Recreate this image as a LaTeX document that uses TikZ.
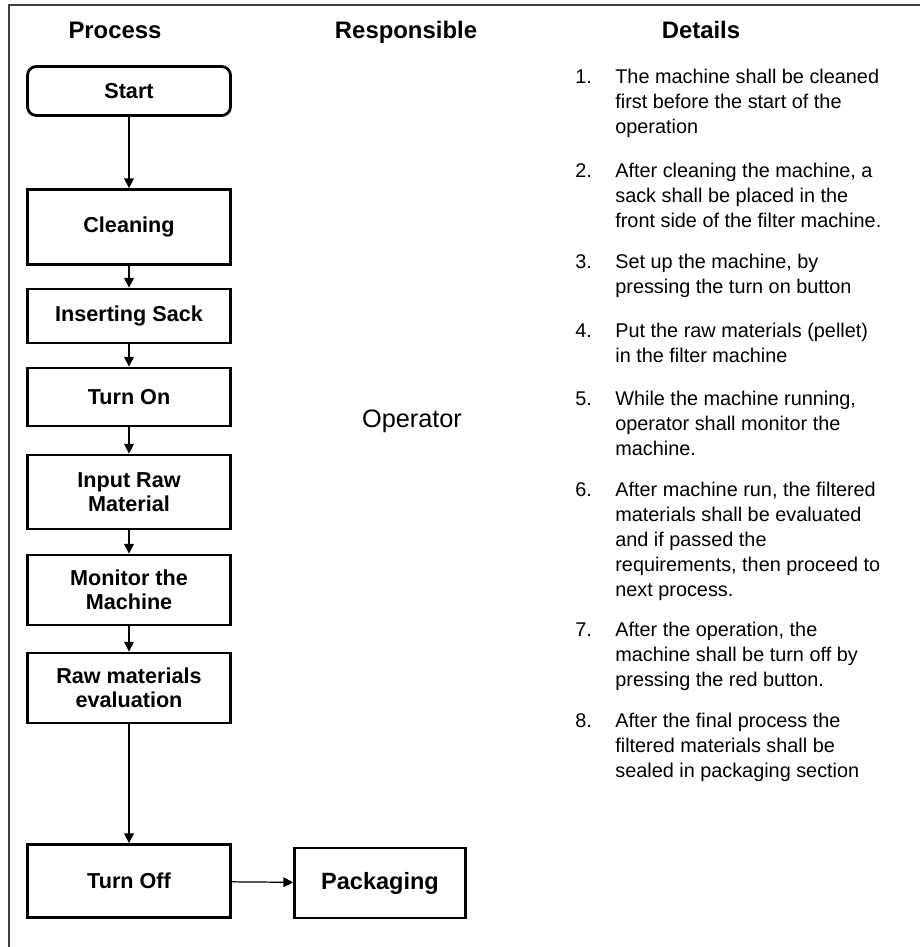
\documentclass[tikz,border=0pt]{standalone}
\usepackage{fontspec}
\setmainfont{Liberation Sans}
\usetikzlibrary{positioning,arrows.meta}
\definecolor{framegray}{HTML}{404040}

\begin{document}
\begin{tikzpicture}[
  x=0.02cm, y=-0.02cm,
  stepbox/.style={rectangle, draw=black, line width=1.6pt, fill=white,
    minimum width=4.06cm, align=center, inner sep=2pt,
    font=\bfseries\fontsize{12.3}{13.7}\selectfont},
  startbox/.style={stepbox, rounded corners=5pt},
  endbox/.style={stepbox, minimum width=3.42cm,
    font=\bfseries\fontsize{13.4}{15}\selectfont},
  head/.style={anchor=base, font=\bfseries\fontsize{13.6}{16}\selectfont},
  role/.style={anchor=base, font=\fontsize{14.4}{17}\selectfont},
  flow/.style={line width=0.7pt, -{Triangle[length=5.5pt,width=5.5pt]}},
  item/.style={anchor=north west, inner sep=0pt, align=left,
    font=\fontsize{11.3}{14.2}\selectfont},
  num/.style={item},
]
\useasboundingbox (0,0) rectangle (920,947);

% frame
\draw[framegray, line width=0.75pt] (920,5) -- (9,5) -- (9,947);

% column heads
\node[head] (hproc) at (115,38)  {Process};
\node[head] (hresp) at (406,38)  {Responsible};
\node[head] (hdet)  at (701,38)  {Details};

% process steps
\node[startbox, minimum height=0.98cm] (start) at (129,91)  {Start};
\node[stepbox, minimum height=1.5cm]   (clean) at (129,227) {Cleaning};
\node[stepbox, minimum height=1.08cm]  (sack)  at (129,316) {Inserting Sack};
\node[stepbox, minimum height=1.16cm]  (on)    at (129,397) {Turn On};
\node[stepbox, minimum height=1.48cm]  (input) at (129,492) {Input Raw\\Material};
\node[stepbox, minimum height=1.4cm]   (mon)   at (129,590) {Monitor the\\Machine};
\node[stepbox, minimum height=1.4cm]   (eval)  at (129,688) {Raw materials\\evaluation};
\node[stepbox, minimum height=1.46cm]  (off)   at (129,881) {Turn Off};
\node[endbox, minimum height=1.4cm]    (pack)  at (380,883) {Packaging};

\draw[flow] (start) -- (clean);
\draw[flow] (clean) -- (sack);
\draw[flow] (sack) -- (on);
\draw[flow] (on) -- (input);
\draw[flow] (input) -- (mon);
\draw[flow] (mon) -- (eval);
\draw[flow] (eval) -- (off);
\draw[flow] (off) -- (pack);

% responsible
\node[role] (oper) at (412,427) {Operator};

% details
\node[num] (n1) at (575,69)  {1.};
\node[item] (d1) at (615,69)  {The machine shall be cleaned\\first before the start of the\\operation};
\node[num] (n2) at (575,163) {2.};
\node[item] (d2) at (615,163) {After cleaning the machine, a\\sack shall be placed in the\\front side of the filter machine.};
\node[num] (n3) at (575,254) {3.};
\node[item] (d3) at (615,254) {Set up the machine, by\\pressing the turn on button};
\node[num] (n4) at (575,323) {4.};
\node[item] (d4) at (615,323) {Put the raw materials (pellet)\\in the filter machine};
\node[num] (n5) at (575,391) {5.};
\node[item] (d5) at (615,391) {While the machine running,\\operator shall monitor the\\machine.};
\node[num] (n6) at (575,482) {6.};
\node[item] (d6) at (615,482) {After machine run, the filtered\\materials shall be evaluated\\and if passed the\\requirements, then proceed to\\next process.};
\node[num] (n7) at (575,622) {7.};
\node[item] (d7) at (615,622) {After the operation, the\\machine shall be turn off by\\pressing the red button.};
\node[num] (n8) at (575,713) {8.};
\node[item] (d8) at (615,713) {After the final process the\\filtered materials shall be\\sealed in packaging section};
\end{tikzpicture}
\end{document}
